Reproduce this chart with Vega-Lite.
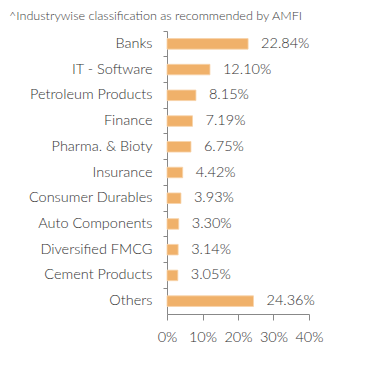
{
  "$schema": "https://vega.github.io/schema/vega-lite/v6.json",
  "width": 142,
  "height": 283,
  "autosize": {"type": "none"},
  "padding": {"left": 167, "top": 31, "right": 82, "bottom": 53},
  "background": "white",
  "title": {
    "text": "^Industrywise classification as recommended by AMFI",
    "anchor": "start",
    "frame": "group",
    "dx": -158,
    "offset": 8,
    "fontSize": 12.6,
    "fontWeight": 300,
    "font": "Lato",
    "color": "#404040"
  },
  "config": {
    "view": {"stroke": null},
    "font": "Lato"
  },
  "data": {
    "values": [
      {"sector": "Banks", "pct": 0.2284},
      {"sector": "IT - Software", "pct": 0.1210},
      {"sector": "Petroleum Products", "pct": 0.0815},
      {"sector": "Finance", "pct": 0.0719},
      {"sector": "Pharma. & Bioty", "pct": 0.0675},
      {"sector": "Insurance", "pct": 0.0442},
      {"sector": "Consumer Durables", "pct": 0.0393},
      {"sector": "Auto Components", "pct": 0.0330},
      {"sector": "Diversified FMCG", "pct": 0.0314},
      {"sector": "Cement Products", "pct": 0.0305},
      {"sector": "Others", "pct": 0.2436}
    ]
  },
  "encoding": {
    "y": {
      "field": "sector",
      "type": "nominal",
      "sort": null,
      "title": null,
      "scale": {"paddingInner": 0, "paddingOuter": 0},
      "axis": {
        "bandPosition": 0,
        "domainColor": "#888888",
        "tickColor": "#888888",
        "tickSize": 4,
        "labelPadding": 11,
        "labelFontSize": 14.5,
        "labelFontWeight": 300,
        "labelColor": "#333333",
        "labelFont": "Lato",
        "labelBound": false
      }
    },
    "x": {
      "field": "pct",
      "type": "quantitative",
      "title": null,
      "scale": {"domain": [0, 0.4], "nice": false},
      "axis": {
        "values": [0, 0.1, 0.2, 0.3, 0.4],
        "format": ".0%",
        "grid": false,
        "labelOverlap": false,
        "labelBound": false,
        "labelFlush": false,
        "domainColor": "#888888",
        "tickColor": "#888888",
        "tickSize": 6,
        "labelPadding": 10,
        "labelFontSize": 14.5,
        "labelFontWeight": 300,
        "labelColor": "#333333",
        "labelFont": "Lato"
      }
    }
  },
  "layer": [
    {
      "mark": {"type": "bar", "height": {"band": 0.41}, "color": "#F0B16A", "stroke": "#F7D3AA", "strokeWidth": 0.8}
    },
    {
      "mark": {"type": "text", "align": "left", "dx": 13, "fontSize": 14.5, "fontWeight": 300, "color": "#333333", "font": "Lato"},
      "encoding": {
        "text": {"field": "pct", "type": "quantitative", "format": ".2%"}
      }
    }
  ]
}
